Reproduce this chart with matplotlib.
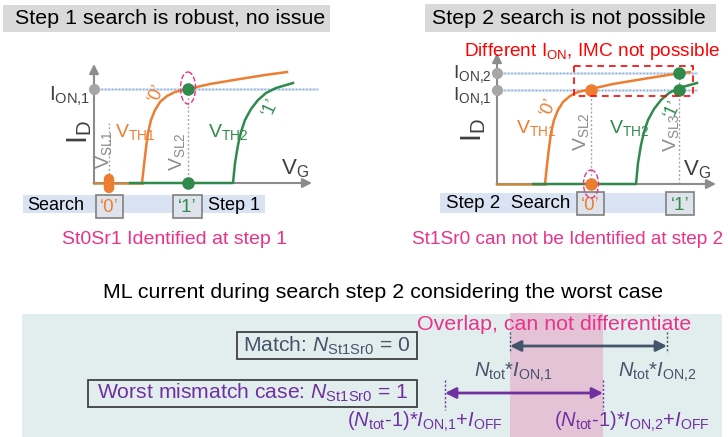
import matplotlib.pyplot as plt
from matplotlib.patches import Rectangle, Ellipse

plt.rcParams['font.family'] = 'Liberation Sans'
plt.rcParams['mathtext.fontset'] = 'custom'
plt.rcParams['mathtext.rm'] = 'Liberation Sans'
plt.rcParams['mathtext.it'] = 'Liberation Sans:italic'

orange = "#ed7d31"
green = "#2f8a4c"
gray = "#8c8c8c"
pink = "#e8338a"
purple = "#7030a0"
slate = "#44546a"

# transfer curves (pixel coords of the sketch: VG to the right, ID upwards)
left_orange_x = [142, 144, 146, 148, 151, 155, 160, 167, 175, 188, 210, 240, 265, 287]
left_orange_y = [183, 165, 148, 133, 120, 110, 102, 96, 92, 89, 84, 79, 75, 72]
left_green_x = [130, 233, 235, 238, 241, 245, 251, 258, 266, 276, 293]
left_green_y = [183, 183, 163, 145, 132, 120, 109, 100, 93, 88, 83]

right_orange_x = [545, 547, 549, 551, 554, 558, 563, 570, 578, 591, 613, 643, 668, 690]
right_orange_y = [184, 165, 148, 133, 120, 110, 102, 96, 92, 89, 84, 79, 75, 72]
right_green_x = [533, 636, 638, 641, 644, 648, 654, 661, 669, 679, 697]
right_green_y = [184, 184, 163, 145, 132, 120, 109, 100, 93, 88, 83]

fig = plt.figure(figsize=(7.28, 4.37), dpi=100)
ax = fig.add_axes([0, 0, 1, 1])
ax.set_xlim(0, 728)
ax.set_ylim(437, 0)
ax.axis('off')


def rect(x0, y0, x1, y1, fc, ec='none', lw=1.0, ls='-', z=1):
    ax.add_patch(Rectangle((x0, y0), x1 - x0, y1 - y0, facecolor=fc,
                           edgecolor=ec, lw=lw, linestyle=ls, zorder=z))


def axis_arrows(x0, y0, xtop, xend):
    ax.annotate("", xy=(x0, xtop), xytext=(x0, y0 + 0.5),
                arrowprops=dict(arrowstyle='-|>', color=gray, lw=1.5,
                                mutation_scale=14, shrinkA=0, shrinkB=0), zorder=2)
    ax.annotate("", xy=(xend, y0), xytext=(x0 - 0.5, y0),
                arrowprops=dict(arrowstyle='-|>', color=gray, lw=1.5,
                                mutation_scale=14, shrinkA=0, shrinkB=0), zorder=2)


def ion_line(x0, x1, y):
    ax.plot([x0, x1], [y, y], color="#dce6f2", lw=2, zorder=1)
    ax.plot([x0, x1], [y, y], color="#7fa6d6", lw=1, ls=(0, (1, 1.5)), zorder=1)
    ax.plot(x0, y, 'o', ms=7, color="#a6a6a6", zorder=4)


def vline(x, y0, y1):
    ax.plot([x, x], [y0, y1], color="#a6a6a6", lw=1, ls=(0, (1.5, 1.5)), zorder=1)


# ---------------- left panel ----------------
rect(3, 5, 330, 32, "#d9d9d9")
ax.text(15, 19, "Step 1 search is robust, no issue", fontsize=15.4, va='center')

ion_line(94, 317, 89)
vline(109, 183, 123)
vline(188, 183, 89)
axis_arrows(94, 183, 64, 312)
ax.plot([94, 142], [183, 183], color="#c78a3e", lw=1.8, zorder=3)
ax.plot(left_orange_x, left_orange_y, color=orange, lw=1.8, zorder=3)
ax.plot(left_green_x, left_green_y, color=green, lw=1.8, zorder=3)
ax.plot([109, 109], [179, 188], color=orange, lw=7.5, solid_capstyle='round', zorder=5)
ax.plot(188, 89, 'o', ms=8, color=green, zorder=5)
ax.plot(188, 183, 'o', ms=8, color=green, zorder=5)
ax.add_patch(Ellipse((188, 88), 15, 32, fill=False, ec=pink, lw=1, ls='--', zorder=6))

ax.text(90, 96, r"$\mathrm{I}_{\mathrm{ON{,}1}}$", fontsize=15, color="#404040", ha='right', va='center')
ax.text(80, 132, r"$\mathrm{I}_{\mathrm{D}}$", fontsize=21, color="#404040", rotation=90, ha='center', va='center')
ax.text(295, 169, r"$\mathrm{V}_{\mathrm{G}}$", fontsize=16, color="#404040", ha='center', va='center')
ax.text(104, 150, r"$\mathrm{V}_{\mathrm{SL1}}$", fontsize=14, color=gray, rotation=90, ha='center', va='center')
ax.text(177, 152, r"$\mathrm{V}_{\mathrm{SL2}}$", fontsize=14, color=gray, rotation=90, ha='center', va='center')
ax.text(115, 132, r"$\mathrm{V}_{\mathrm{TH1}}$", fontsize=14, color=orange, ha='left', va='center')
ax.text(208, 132, r"$\mathrm{V}_{\mathrm{TH2}}$", fontsize=14, color=green, ha='left', va='center')
ax.text(157, 93, "\u20180\u2019", fontsize=13, color=orange, rotation=65, ha='center', va='center')
ax.text(271, 107, "\u20181\u2019", fontsize=13, color=green, rotation=65, ha='center', va='center')

rect(23, 195, 265, 213, "#dae3f3")
rect(96, 195, 123, 218, "#dfe4ec", ec="#808080", lw=1.2, z=2)
rect(173, 195, 202, 218, "#dfe4ec", ec="#808080", lw=1.2, z=2)
ax.text(27, 206, "Search", fontsize=13, va='center')
ax.text(109.5, 207, "\u20180\u2019", fontsize=13.5, color=orange, ha='center', va='center', zorder=3)
ax.text(187.5, 207, "\u20181\u2019", fontsize=13.5, color=green, ha='center', va='center', zorder=3)
ax.text(208, 206, "Step 1", fontsize=13, va='center')
ax.text(175, 240, "St0Sr1 Identified at step 1", fontsize=14, color=pink, ha='center', va='center')

# ---------------- right panel ----------------
rect(425, 4, 716, 32, "#d9d9d9")
ax.text(432, 18, "Step 2 search is not possible", fontsize=15.4, va='center')
ax.text(464, 51, r"Different $\mathrm{I}_{\mathrm{ON}}$, IMC not possible", fontsize=13.7,
        color="#ff0000", ha='left', va='center')

ion_line(497, 696, 73)
ion_line(497, 696, 90)
vline(591, 184, 90)
vline(679, 184, 73)
axis_arrows(497, 184, 53, 716)
ax.plot([497, 545], [184, 184], color="#c78a3e", lw=1.8, zorder=3)
ax.plot(right_orange_x, right_orange_y, color=orange, lw=1.8, zorder=3)
ax.plot(right_green_x, right_green_y, color=green, lw=1.8, zorder=3)
ax.plot(591, 90, 'o', ms=8, color=orange, zorder=5)
ax.plot(591, 184, 'o', ms=8, color=orange, zorder=5)
ax.plot(679, 73, 'o', ms=8, color=green, zorder=5)
ax.plot(679, 90, 'o', ms=8, color=green, zorder=5)
ax.add_patch(Ellipse((591, 184), 15, 28, fill=False, ec=pink, lw=1, ls='--', zorder=6))
rect(574, 66, 693, 96, "none", ec="#ff0000", lw=1.2, ls=(0, (4, 3)), z=6)

ax.text(492, 74, r"$\mathrm{I}_{\mathrm{ON{,}2}}$", fontsize=14, color="#404040", ha='right', va='center')
ax.text(492, 96, r"$\mathrm{I}_{\mathrm{ON{,}1}}$", fontsize=14, color="#404040", ha='right', va='center')
ax.text(474, 130, r"$\mathrm{I}_{\mathrm{D}}$", fontsize=21, color="#404040", rotation=90, ha='center', va='center')
ax.text(697, 170, r"$\mathrm{V}_{\mathrm{G}}$", fontsize=16, color="#404040", ha='center', va='center')
ax.text(581, 132, r"$\mathrm{V}_{\mathrm{SL2}}$", fontsize=14, color=gray, rotation=90, ha='center', va='center')
ax.text(671, 133, r"$\mathrm{V}_{\mathrm{SL3}}$", fontsize=14, color=gray, rotation=90, ha='center', va='center')
ax.text(516, 128, r"$\mathrm{V}_{\mathrm{TH1}}$", fontsize=14, color=orange, ha='left', va='center')
ax.text(609, 128, r"$\mathrm{V}_{\mathrm{TH2}}$", fontsize=14, color=green, ha='left', va='center')
ax.text(549, 107, "\u20180\u2019", fontsize=13, color=orange, rotation=65, ha='center', va='center')
ax.text(673, 109, "\u20181\u2019", fontsize=13, color=green, rotation=65, ha='center', va='center')

rect(440, 193, 694, 213, "#dae3f3")
rect(577, 192, 604, 215, "#dfe4ec", ec="#808080", lw=1.2, z=2)
rect(666, 192, 694, 215, "#dfe4ec", ec="#808080", lw=1.2, z=2)
ax.text(446, 203, "Step 2  Search", fontsize=13.5, va='center')
ax.text(590.5, 205, "\u20180\u2019", fontsize=13.5, color=orange, ha='center', va='center', zorder=3)
ax.text(680, 205, "\u20181\u2019", fontsize=13.5, color=green, ha='center', va='center', zorder=3)
ax.text(568, 240, "St1Sr0 can not be Identified at step 2", fontsize=13.7, color=pink, ha='center', va='center')

# ---------------- bottom panel ----------------
ax.text(383, 293, "ML current during search step 2 considering the worst case", fontsize=15.4, ha='center', va='center')
rect(22, 314, 722, 437, "#e2eeee")
rect(510, 313, 603, 437, "#e4c3d7", z=1.5)
ax.text(417, 325, "Overlap, can not differentiate", fontsize=15.4, color=pink, ha='left', va='center', zorder=3)

rect(237, 332, 417, 359, "none", ec="#404040", lw=1.3, z=3)
ax.text(243, 346, r"Match: $N_{\mathrm{St1Sr0}}$ = 0", fontsize=15.2, color=slate, va='center', zorder=3)
rect(88, 380, 417, 407, "none", ec="#404040", lw=1.3, z=3)
ax.text(97, 393, r"Worst mismatch case: $N_{\mathrm{St1Sr0}}$ = 1", fontsize=15.2, color=purple, va='center', zorder=3)

for x in [510, 667]:
    ax.plot([x, x], [332, 353], color=slate, lw=1, ls=(0, (1.5, 1.5)), zorder=3)
ax.annotate("", xy=(667, 346), xytext=(510, 346),
            arrowprops=dict(arrowstyle='<|-|>', color=slate, lw=2, mutation_scale=16,
                            shrinkA=0, shrinkB=0), zorder=3)
for x in [445, 603]:
    ax.plot([x, x], [380, 410], color=purple, lw=1, ls=(0, (1.5, 1.5)), zorder=3)
ax.annotate("", xy=(603, 393), xytext=(445, 393),
            arrowprops=dict(arrowstyle='<|-|>', color=purple, lw=2, mutation_scale=16,
                            shrinkA=0, shrinkB=0), zorder=3)

ax.text(513, 372, r"$N_{\mathrm{tot}}$*$I_{\mathrm{ON{,}1}}$", fontsize=14.5, color=slate, ha='center', va='center', zorder=3)
ax.text(657, 372, r"$N_{\mathrm{tot}}$*$I_{\mathrm{ON{,}2}}$", fontsize=14.5, color=slate, ha='center', va='center', zorder=3)
ax.text(425, 422, r"($N_{\mathrm{tot}}$-1)*$I_{\mathrm{ON{,}1}}$+$I_{\mathrm{OFF}}$", fontsize=14.5, color=purple,
        ha='center', va='center', zorder=3)
ax.text(632, 422, r"($N_{\mathrm{tot}}$-1)*$I_{\mathrm{ON{,}2}}$+$I_{\mathrm{OFF}}$", fontsize=14.5, color=purple,
        ha='center', va='center', zorder=3)

fig.savefig("out.png", dpi=100)
